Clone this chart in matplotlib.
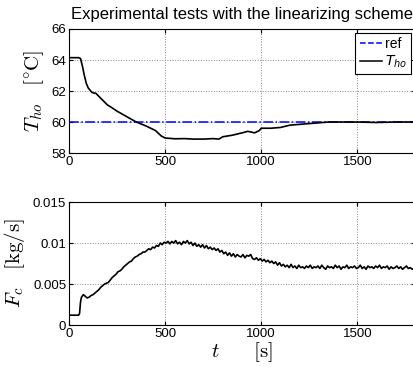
import numpy as np
import matplotlib
matplotlib.use("Agg")
import matplotlib.pyplot as plt
from matplotlib.lines import Line2D

plt.rcParams['font.family'] = ['Liberation Sans', 'DejaVu Sans']
plt.rcParams['mathtext.fontset'] = 'dejavusans'

# temperature T_ho (degC)
t_tho = [0, 50, 60, 70, 80, 90, 100, 120, 140, 160, 180, 200, 220, 250, 300, 350,
         400, 450, 480, 500, 550, 600, 650, 700, 750, 780, 800, 850, 900, 930, 950,
         965, 990, 1000, 1050, 1100, 1150, 1200, 1250, 1300, 1350, 1400, 1500, 1600,
         1700, 1800]
tho = [64.15, 64.15, 64.1, 63.6, 63.0, 62.5, 62.2, 61.9, 61.85, 61.6, 61.35, 61.1,
       60.95, 60.7, 60.35, 60.0, 59.75, 59.45, 59.1, 58.97, 58.92, 58.93, 58.9, 58.9,
       58.93, 58.9, 59.05, 59.15, 59.3, 59.4, 59.35, 59.3, 59.45, 59.6, 59.6, 59.65,
       59.8, 59.85, 59.9, 59.95, 60.0, 60.0, 60.0, 59.97, 60.0, 60.0]
t_ref = [0, 1800]
ref = [60, 60]

# coolant flow F_c (kg/s)
t_fc = [0, 50, 55, 60, 65] + list(range(75, 1805, 10))
fc = [.0012, .0012, .0014, .0028, .0034,
      .0037, .0035, .0033, .0034, .0036, .0037, .0039, .0041, .0043, .0046,
      .0048, .0050, .0051, .0052, .0055, .0058, .0060, .0062, .0065, .0066,
      .0068, .0071, .0073, .0075, .0077, .0078, .0081, .0083, .0084, .0086,
      .0087, .0089, .0089, .0091, .0093, .0092, .0095, .0094, .0097, .0096,
      .0100, .0098, .0101, .0100, .0102, .0099, .0102, .0100, .0103, .0099,
      .0101, .0098, .0102, .0100, .0103, .0099, .0101, .0097, .0100, .0096,
      .0098, .0095, .0098, .0094, .0097, .0093, .0095, .0092, .0094, .0091,
      .0093, .0089, .0091, .0087, .0089, .0085, .0088, .0084, .0087, .0083,
      .0086, .0084, .0083, .0086, .0082, .0085, .0084, .0086, .0081, .0080,
      .0082, .0079, .0081, .0078, .0080, .0077, .0079, .0076, .0078, .0075,
      .0077, .0073, .0076, .0072, .0074, .0071, .0073, .0070, .0074, .0070,
      .0072, .0069, .0073, .0070, .0071, .0069, .0072, .0070, .0073, .0069,
      .0071, .0070, .0072, .0069, .0073, .0070, .0068, .0072, .0070, .0071,
      .0069, .0073, .0070, .0072, .0068, .0071, .0070, .0073, .0069, .0071,
      .0070, .0072, .0069, .0070, .0073, .0069, .0071, .0068, .0072, .0070,
      .0071, .0069, .0072, .0070, .0073, .0069, .0071, .0070, .0072, .0068,
      .0071, .0069, .0070, .0072, .0069, .0071, .0068, .0070, .0072, .0069,
      .0070, .0068, .0069, .0067, .0066]
n = min(len(t_fc), len(fc))
t_fc, fc = t_fc[:n], fc[:n]

xticks = [0, 500, 1000, 1500]
yticks_top = [58, 60, 62, 64, 66]
yticks_bot = [0, 0.005, 0.01, 0.015]
yticklabels_bot = ['0', '0.005', '0.01', '0.015']

fig = plt.figure(figsize=(4.13, 3.67), dpi=100)
ax1 = fig.add_axes([0.167, 0.583, 0.838, 0.338])
ax2 = fig.add_axes([0.167, 0.1144, 0.838, 0.335])

ax1.plot(t_ref, ref, color='b', ls='-.', lw=1.1)
ax1.plot(t_tho, tho, color='k', lw=1.2)
ax2.plot(t_fc, fc, color='k', lw=1.2)

for ax in (ax1, ax2):
    ax.set_xlim(0, 1800)
    ax.set_xticks(xticks)
    ax.grid(True, ls=':', color='#888888', lw=0.7)
    ax.tick_params(direction='in', labelsize=9.5, length=3, top=True, right=True, pad=2)

ax1.set_ylim(58, 66)
ax1.set_yticks(yticks_top)
ax2.set_ylim(0, 0.015)
ax2.set_yticks(yticks_bot)
ax2.set_yticklabels(yticklabels_bot)

ax1.set_title('Experimental tests with the linearizing scheme', fontsize=12, pad=7)
ax1.set_ylabel(r'$T_{ho}$   $[^{\circ}\mathrm{C}]$', fontsize=15, math_fontfamily='cm', labelpad=4)
ax2.set_ylabel(r'$F_c$   $[\mathrm{kg/s}]$', fontsize=15, math_fontfamily='cm', labelpad=4)
ax2.set_xlabel(r'$t$      $[\mathrm{s}]$', fontsize=15, math_fontfamily='cm', labelpad=0)

handles = [Line2D([], [], color='b', ls='--', lw=1.1),
           Line2D([], [], color='k', lw=1.1)]
leg = ax1.legend(handles, ['ref', r'$T_{ho}$'], loc='upper right', fontsize=10,
                 fancybox=False, edgecolor='k', framealpha=1, borderaxespad=0.3,
                 handlelength=1.6, handletextpad=0.2, borderpad=0.3, labelspacing=0.15)
leg.get_frame().set_linewidth(0.8)

fig.savefig('out.png', dpi=100)
